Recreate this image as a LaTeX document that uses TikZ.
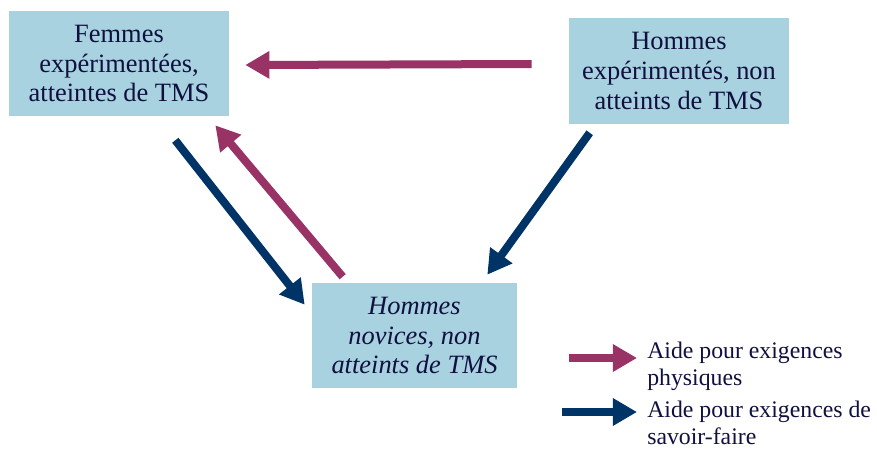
\documentclass[tikz,border=0pt]{standalone}
\usepackage{fontspec}
\setmainfont{Liberation Serif}
\usepackage{tikz}
\usetikzlibrary{calc}
\usetikzlibrary{arrows.meta}
\usepackage{xcolor}
\definecolor{boxblue}{RGB}{168,210,223}
\definecolor{inkblue}{RGB}{16,16,64}
\definecolor{physcol}{RGB}{153,51,102}
\definecolor{savcol}{RGB}{0,51,102}

\begin{document}
\begin{tikzpicture}[x=0.025cm, y=-0.025cm,
    box/.style={fill=boxblue, text=inkblue, align=center, minimum height=2.625cm, inner sep=0pt, font=\fontsize{18.8}{21.3}\selectfont},
    aide/.style={line width=0.2cm, -{Triangle[length=0.6cm, width=0.65cm]}},
    legende/.style={text=inkblue, align=left, anchor=north west, inner sep=0pt, font=\fontsize{16.9}{19.2}\selectfont}]
    \useasboundingbox (0,0) rectangle (877,449);
    \node[box, minimum width=5.5cm] (fem) at (119,63.5) {Femmes\\expérimentées,\\atteintes de TMS};
    \node[box, minimum width=5.5cm] (hexp) at (679,71) {Hommes\\expérimentés, non\\atteints de TMS};
    \node[box, minimum width=5.125cm, font=\fontsize{18.8}{21.3}\selectfont\itshape] (nov) at (414.5,335.5) {Hommes\\novices, non\\atteints de TMS};
    \draw[aide, physcol] ([shift={(-37,-7)}]hexp.west) -- ([shift={(16,1.5)}]fem.east);
    \draw[aide, savcol] ([shift={(-54,24)}]fem.south east) -- ([shift={(-7,22)}]nov.north west);
    \draw[aide, physcol] ([shift={(31,-6)}]nov.north west) -- ([shift={(-14,9)}]fem.south east);
    \draw[aide, savcol] ([shift={(21,9)}]hexp.south west) -- ([shift={(-30,-8)}]nov.north east);
    % legende
    \node[legende] (phys) at (647,342) {Aide pour exigences\\physiques};
    \node[legende] (sav) at (647,401) {Aide pour exigences de\\savoir-faire};
    \coordinate (physdeb) at (569,358);
    \coordinate (savdeb) at (562,412);
    \draw[aide, physcol, shorten >=0.25cm] (physdeb) -- (physdeb -| phys.west);
    \draw[aide, savcol, shorten >=0.25cm] (savdeb) -- (savdeb -| sav.west);
\end{tikzpicture}
\end{document}
